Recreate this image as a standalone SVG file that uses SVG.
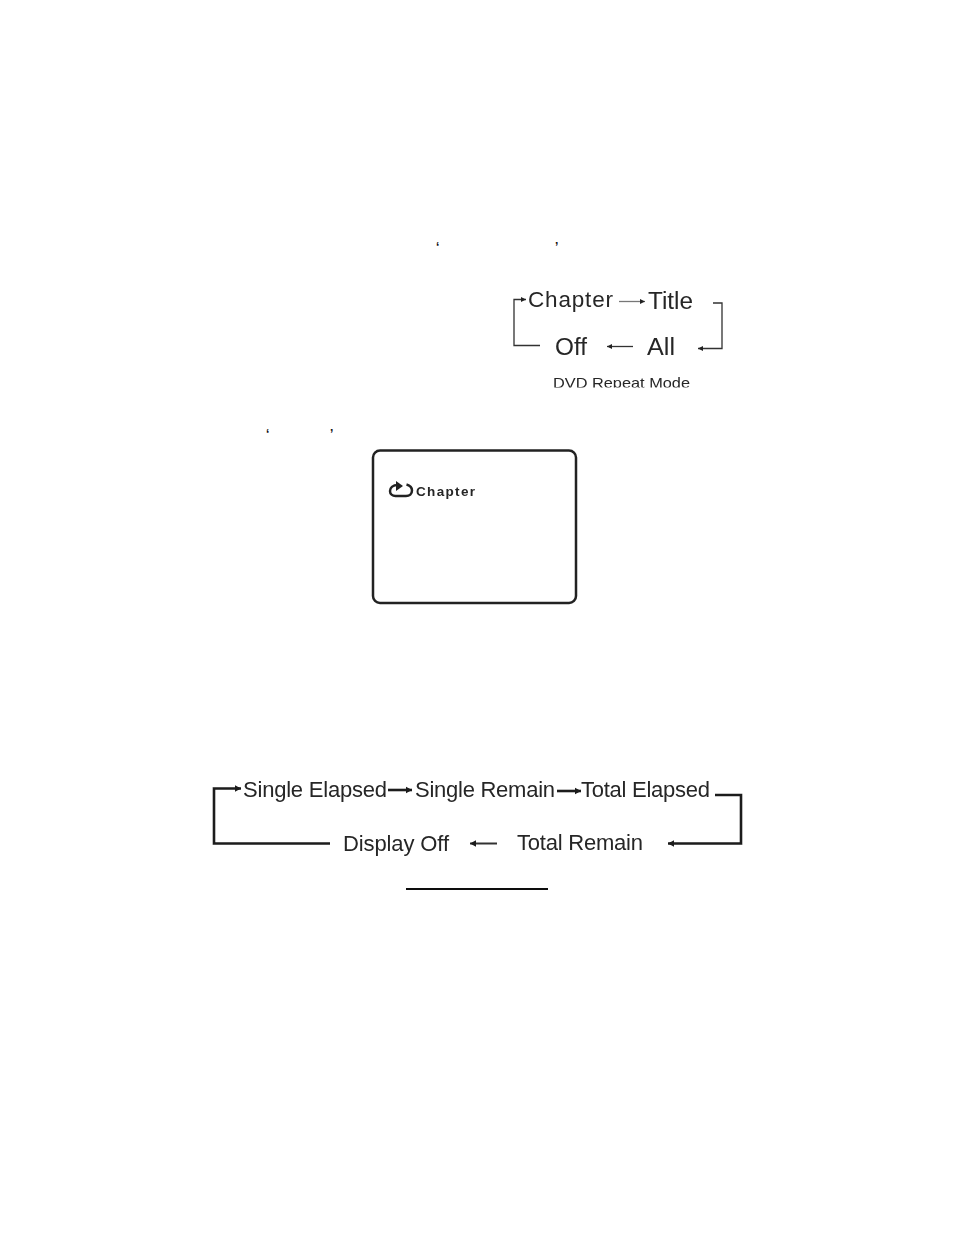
<svg xmlns="http://www.w3.org/2000/svg" width="954" height="1235" viewBox="0 0 954 1235">
<style>
text{font-family:"Liberation Sans",Arial,sans-serif;fill:#262626}
.a{font-size:22.500px}
.e{font-size:23.500px}
.b{font-size:22px}
.c{fill:none;stroke:#333;stroke-width:1.300}
.d{fill:none;stroke:#1a1a1a;stroke-width:2.600}
.q{font-size:12px;font-weight:bold;fill:#111}
.i{fill:none;stroke:#222;stroke-width:2.500}
</style>
<defs>
<filter id="soft" x="-5%" y="-20%" width="110%" height="140%"><feGaussianBlur stdDeviation="0.5"/></filter>
<marker id="s" markerUnits="userSpaceOnUse" markerWidth="6" markerHeight="6" refX="5" refY="3" orient="auto"><path d="M0 0.500L5 3L0 5.500z" fill="#222"/></marker>
<marker id="l" markerUnits="userSpaceOnUse" markerWidth="7" markerHeight="8" refX="6" refY="4" orient="auto"><path d="M0 0.800L6 4L0 7.200z" fill="#1a1a1a"/></marker>
<clipPath id="cap"><rect x="545" y="370" width="155" height="17.500"/></clipPath>
</defs>
<rect width="954" height="1235" fill="#fff"/>
<text class="q" x="436" y="251">‘</text><text class="q" x="555" y="251">’</text>
<text class="q" x="266" y="438">‘</text><text class="q" x="330" y="438">’</text>
<g id="connectors" filter="url(#soft)">
<path class="c" marker-end="url(#s)" d="M540 345.500H514V299.500H526"/>
<path class="c" style="stroke:#777" marker-end="url(#s)" d="M619 301.500H645"/>
<path class="c" marker-end="url(#s)" d="M713 303H722V348.500H698"/>
<path class="c" marker-end="url(#s)" d="M633 346.500H607"/>
<path class="d" marker-end="url(#l)" d="M330 843.500H214V788.500H241"/>
<path class="d" marker-end="url(#l)" d="M388 790H412"/>
<path class="d" marker-end="url(#l)" d="M557 791H581"/>
<path class="d" marker-end="url(#l)" d="M715 795H741V843.500H668"/>
<path class="c" style="stroke-width:2" marker-end="url(#l)" d="M497 843.500H470"/>
<path d="M406 889H548" stroke="#111" stroke-width="2"/>
</g>
<g id="n-chapter" filter="url(#soft)"><text x="528" y="306.500" class="a" textLength="85">Chapter</text></g>
<g id="n-title" filter="url(#soft)"><text x="648" y="308.500" class="e" textLength="45" lengthAdjust="spacingAndGlyphs">Title</text></g>
<g id="n-off" filter="url(#soft)"><text x="555" y="355" class="e" textLength="32" lengthAdjust="spacingAndGlyphs">Off</text></g>
<g id="n-all" filter="url(#soft)"><text x="647" y="355" class="e" textLength="28" lengthAdjust="spacingAndGlyphs">All</text></g>
<g id="caption-dvd" filter="url(#soft)"><text x="553" y="387.500" font-size="15" textLength="137" lengthAdjust="spacingAndGlyphs" clip-path="url(#cap)">DVD Repeat Mode</text></g>
<g id="n-screen" filter="url(#soft)">
<rect x="373" y="450.500" width="203" height="152.500" rx="7" fill="#fff" stroke="#222" stroke-width="2.500"/>
<path class="i" d="M398 485C392.500 485 390 488 390 491C390 494 392.500 496 395.500 496H406C409.500 496 412 494 412 490.500C412 488 410 485.500 406.500 484.500"/>
<path d="M396 481L403 486L396 491z" fill="#222"/>
<text x="416" y="495.500" font-size="13.500" font-weight="bold" textLength="59">Chapter</text>
</g>
<g id="n-single-elapsed" filter="url(#soft)"><text x="243" y="797" class="b" textLength="144">Single Elapsed</text></g>
<g id="n-single-remain" filter="url(#soft)"><text x="415" y="797" class="b" textLength="140">Single Remain</text></g>
<g id="n-total-elapsed" filter="url(#soft)"><text x="581" y="797" class="b" textLength="129">Total Elapsed</text></g>
<g id="n-display-off" filter="url(#soft)"><text x="343" y="851" class="b" textLength="106">Display Off</text></g>
<g id="n-total-remain" filter="url(#soft)"><text x="517" y="850" class="b" textLength="126">Total Remain</text></g>
</svg>
